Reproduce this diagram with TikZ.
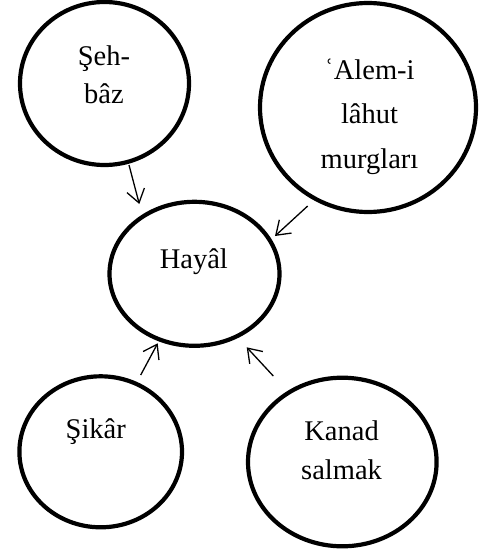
\documentclass[tikz,border=0pt]{standalone}
\usepackage{fontspec}
\setmainfont{Liberation Serif}
\usetikzlibrary{shapes.geometric,arrows.meta}

\begin{document}
\begin{tikzpicture}[x=1pt,y=1pt]
    \useasboundingbox (0,0) rectangle (484,-551);

    \begin{scope}[every node/.style={ellipse, draw, line width=4.2pt, inner sep=0pt}]
        \node[minimum width=169pt, minimum height=163pt] (sehbaz) at (104.5,-83.5) {};
        \node[minimum width=216pt, minimum height=209pt] (alem) at (368,-107.5) {};
        \node[minimum width=170pt, minimum height=144pt] (hayal) at (194.5,-273.8) {};
        \node[minimum width=162.6pt, minimum height=151pt] (sikar) at (100.7,-451.8) {};
        \node[minimum width=188.6pt, minimum height=168.6pt] (kanad) at (342.3,-462) {};
    \end{scope}

    % base = last line of each label
    \begin{scope}[every node/.style={font=\fontsize{28.5}{38.3}\selectfont, align=center, anchor=base}]
        \node (sehbaz-t) at (104,-103.3) {Şeh-\\bâz};
        \node[font=\fontsize{28.5}{44.5}\selectfont] (alem-t) at (369.5,-168) {ʿAlem-i\\lâhut\\murgları};
        \node (hayal-t) at (193.8,-268.3) {Hayâl};
        \node (sikar-t) at (95.8,-438.3) {Şikâr};
        \node (kanad-t) at (341.6,-479) {Kanad\\salmak};
    \end{scope}

    \begin{scope}[every edge/.style={draw, line width=1.3pt, -{Straight Barb[length=13pt,width=18pt]}}]
        \path ([shift={(24.5,-81.5)}]sehbaz.center) edge ([shift={(-55.2,69.8)}]hayal.center);
        \path ([shift={(-60.3,-98.5)}]alem.center) edge ([shift={(80.5,37.8)}]hayal.center);
        \path ([shift={(40,76.8)}]sikar.center) edge ([shift={(-36.8,-69.5)}]hayal.center);
        \path ([shift={(-69,86)}]kanad.center) edge ([shift={(52.2,-73.5)}]hayal.center);
    \end{scope}
\end{tikzpicture}
\end{document}
